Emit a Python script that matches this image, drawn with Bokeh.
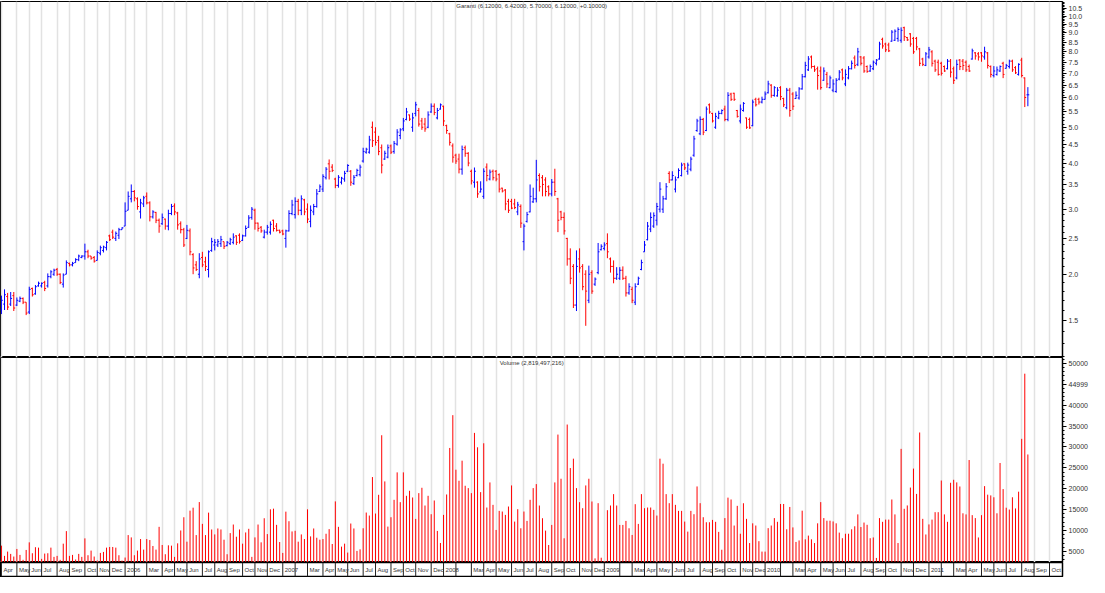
import pandas as pd
from bokeh.plotting import figure
from bokeh.layouts import column
from bokeh.models import Range1d, FixedTicker, Grid, CustomJSTickFormatter, Label, ColumnDataSource
from bokeh.embed import file_html
from bokeh.resources import INLINE
from bokeh.core.properties import value

# ---------------- data (weekly bars, Apr 2005 - Aug 2011) ----------------
open_ = [1.60,1.66,1.74,1.66,1.75,1.65,1.69,1.72,1.68,1.58,1.83,1.77,1.86,1.86,1.90,1.86,1.97,2.00,2.06,2.00,
1.88,2.00,2.14,2.12,2.15,2.19,2.22,2.24,2.30,2.24,2.22,2.18,2.28,2.32,2.36,2.54,2.60,2.50,2.55,2.64,
2.70,2.98,3.20,3.35,3.20,2.95,3.10,3.25,3.12,2.86,2.94,2.80,2.74,2.82,2.70,2.92,3.06,2.93,2.74,2.64,
2.50,2.62,2.26,2.12,2.00,2.22,2.16,2.06,2.32,2.40,2.40,2.42,2.45,2.39,2.42,2.44,2.54,2.55,2.47,2.54,
2.68,2.85,2.98,2.75,2.68,2.52,2.60,2.60,2.80,2.70,2.63,2.62,2.50,2.62,2.92,2.90,3.15,2.98,3.18,3.00,
2.78,2.95,3.05,3.35,3.40,3.65,3.98,3.90,3.62,3.48,3.55,3.62,3.80,3.80,3.52,3.70,3.72,4.05,4.28,4.28,
5.00,4.85,4.60,4.40,4.10,4.15,4.45,4.30,4.50,4.75,4.95,5.25,5.40,5.00,5.45,5.55,5.20,5.10,5.00,5.50,
5.70,5.30,5.60,5.70,5.05,4.80,4.45,4.20,4.10,3.85,4.40,4.25,3.80,3.55,3.55,3.34,3.25,3.90,3.62,3.80,
3.80,3.72,3.42,3.38,3.15,3.15,3.10,2.95,3.05,2.45,2.78,2.95,3.14,3.20,3.70,3.65,3.60,3.45,3.30,3.55,
3.20,2.95,2.85,2.50,2.20,2.10,1.65,2.20,2.10,2.00,1.70,2.02,1.88,2.02,2.33,2.35,2.42,2.20,2.10,1.95,
1.95,2.05,1.95,1.78,1.82,1.68,1.88,2.06,2.30,2.48,2.65,2.70,2.80,3.00,3.00,3.20,3.75,3.60,3.40,3.65,
3.70,3.98,3.80,3.85,4.20,4.90,4.80,5.25,4.90,5.75,5.45,5.00,5.30,5.45,5.60,5.25,6.15,6.18,5.55,5.20,
5.55,5.30,5.25,5.05,5.95,5.95,5.85,5.95,6.20,6.50,6.10,6.08,6.40,5.98,5.65,6.30,6.15,5.98,6.00,6.35,
6.85,7.15,7.75,7.30,7.20,7.10,6.70,6.95,6.40,6.30,6.25,6.75,7.15,6.55,6.80,7.20,7.70,7.40,7.75,7.70,
7.30,7.10,7.20,7.45,7.65,8.65,8.40,8.35,8.55,8.60,8.70,8.60,9.30,8.75,8.95,8.70,8.70,8.15,7.65,7.35,
7.75,8.00,7.55,7.50,7.45,7.30,7.20,7.55,7.20,6.80,7.60,7.55,7.50,7.30,7.65,7.95,7.90,7.95,7.75,7.95,
7.30,6.90,6.95,7.10,7.45,7.22,7.30,7.55,7.25,6.95,7.60,6.80,6.12]

high = [1.75,1.82,1.78,1.79,1.79,1.73,1.74,1.73,1.68,1.85,1.84,1.87,1.91,1.90,1.92,2.01,2.05,2.07,2.08,2.01,
2.01,2.18,2.15,2.16,2.21,2.26,2.25,2.42,2.33,2.24,2.24,2.32,2.39,2.39,2.46,2.56,2.64,2.61,2.67,2.68,
3.13,3.35,3.50,3.38,3.23,3.20,3.26,3.33,3.15,2.98,2.95,2.83,2.92,2.83,2.99,3.10,3.11,2.95,2.78,2.67,
2.72,2.66,2.28,2.17,2.28,2.30,2.23,2.32,2.51,2.49,2.49,2.54,2.45,2.46,2.51,2.58,2.55,2.58,2.56,2.71,
2.89,3.04,3.01,2.76,2.70,2.64,2.72,2.78,2.81,2.75,2.64,2.64,2.64,2.98,3.18,3.23,3.20,3.27,3.20,3.11,
3.07,3.10,3.40,3.50,3.73,3.90,4.09,3.97,3.65,3.71,3.67,3.81,3.97,3.83,3.71,3.86,3.96,4.40,4.40,4.74,
5.18,5.00,4.74,4.49,4.32,4.49,4.49,4.59,4.94,4.97,5.30,5.64,5.41,5.47,5.86,5.64,5.30,5.30,5.52,5.80,
5.80,5.64,5.80,5.72,5.08,4.83,4.52,4.24,4.24,4.46,4.46,4.28,3.84,3.89,3.57,3.57,3.87,3.99,3.84,3.84,
3.83,3.75,3.43,3.40,3.20,3.20,3.20,3.14,3.09,2.74,2.95,3.50,3.43,4.08,3.75,3.71,3.66,3.48,3.62,3.86,
3.22,2.97,2.94,2.51,2.35,2.13,2.32,2.35,2.13,2.05,2.11,2.05,1.96,2.43,2.41,2.44,2.58,2.22,2.18,2.09,
2.09,2.10,1.98,1.89,1.85,1.89,1.97,2.19,2.46,2.77,2.94,2.94,3.12,3.55,3.26,3.53,3.80,3.80,3.68,3.87,
4.01,3.99,4.01,4.16,4.74,5.27,5.35,5.30,5.69,5.80,5.47,5.47,5.54,5.59,5.72,6.22,6.20,6.20,5.57,5.76,
5.85,5.31,5.31,5.94,6.01,6.01,6.05,6.25,6.68,6.54,6.46,6.42,6.46,6.01,6.39,6.39,6.22,6.25,6.42,6.97,
7.52,7.79,7.82,7.35,7.30,7.30,7.26,7.06,6.90,6.74,6.79,7.14,7.21,7.17,7.32,7.58,7.82,8.20,7.79,7.79,
7.35,7.39,7.58,7.65,8.52,8.74,8.47,8.47,9.16,9.20,9.32,9.32,9.36,8.78,8.99,8.78,8.78,8.20,7.71,7.99,
8.25,8.08,7.62,7.62,7.52,7.35,7.65,7.65,7.30,7.62,7.65,7.65,7.58,7.39,8.16,7.99,7.99,7.99,8.26,7.99,
7.35,7.32,7.30,7.35,7.52,7.42,7.62,7.62,7.32,7.45,7.71,6.82,6.42]

low = [1.56,1.60,1.60,1.64,1.59,1.64,1.68,1.66,1.55,1.56,1.74,1.76,1.85,1.84,1.80,1.84,1.95,1.98,1.98,1.88,
1.84,2.00,2.10,2.10,2.15,2.17,2.21,2.19,2.21,2.19,2.15,2.18,2.25,2.29,2.32,2.46,2.49,2.46,2.49,2.64,
2.70,2.98,3.13,3.15,2.99,2.83,3.04,3.09,2.78,2.83,2.75,2.59,2.72,2.64,2.63,2.89,2.89,2.64,2.58,2.37,
2.49,2.25,2.00,2.04,1.95,2.09,2.04,1.96,2.30,2.32,2.37,2.37,2.34,2.38,2.40,2.41,2.40,2.42,2.46,2.53,
2.67,2.81,2.64,2.61,2.59,2.50,2.56,2.56,2.61,2.61,2.58,2.55,2.36,2.61,2.89,2.83,2.89,2.89,2.89,2.75,
2.68,2.89,3.03,3.34,3.34,3.61,3.61,3.78,3.42,3.43,3.50,3.56,3.78,3.47,3.49,3.68,3.68,4.01,4.24,4.24,
4.42,4.46,4.20,3.75,4.08,4.12,4.23,4.24,4.46,4.64,4.88,5.22,5.20,4.86,5.35,5.02,4.92,4.86,4.97,5.47,
5.39,5.25,5.58,5.04,4.80,4.46,4.01,3.98,3.75,3.72,4.16,3.92,3.50,3.43,3.22,3.33,3.20,3.57,3.59,3.59,
3.57,3.33,3.33,2.98,2.93,3.00,3.00,2.89,2.67,2.32,2.76,2.94,3.12,3.13,3.35,3.25,3.25,3.25,3.25,3.26,
2.60,2.80,2.56,2.11,1.88,1.62,1.59,2.02,1.81,1.45,1.67,1.77,1.86,2.00,2.32,2.32,2.21,2.02,1.89,1.93,
1.93,1.93,1.74,1.76,1.67,1.65,1.87,2.05,2.30,2.47,2.60,2.67,2.71,2.94,2.93,3.18,3.53,3.59,3.33,3.64,
3.68,3.83,3.72,3.80,4.16,4.86,4.76,4.76,4.88,5.44,5.15,4.95,5.26,5.42,5.19,5.19,5.89,5.89,5.31,5.12,
5.51,4.95,4.95,5.03,5.69,5.76,5.80,5.94,6.17,6.01,6.05,6.05,5.92,5.67,5.59,5.34,5.57,5.97,5.94,6.32,
6.82,7.10,7.21,7.06,6.32,6.32,6.68,6.39,6.37,6.22,6.20,6.70,6.70,6.46,6.74,7.17,7.21,7.32,7.35,7.02,
7.02,7.06,7.14,7.35,7.62,8.16,7.99,7.99,8.52,8.56,8.52,8.47,8.56,8.56,8.26,7.90,8.08,7.32,7.32,7.32,
7.67,7.30,7.06,6.90,6.90,7.06,7.17,6.82,6.55,6.74,7.14,7.14,7.06,7.06,7.62,7.62,7.58,7.52,7.62,7.21,
6.82,6.82,6.90,7.06,6.79,7.21,7.21,7.06,6.97,6.90,6.82,5.67,5.70]

close = [1.70,1.76,1.63,1.72,1.62,1.70,1.72,1.68,1.57,1.82,1.76,1.85,1.89,1.89,1.83,1.97,2.03,2.05,2.00,1.90,
1.99,2.15,2.12,2.14,2.19,2.24,2.24,2.30,2.24,2.21,2.17,2.29,2.36,2.37,2.44,2.48,2.52,2.58,2.64,2.67,
2.96,3.25,3.35,3.22,3.05,3.12,3.22,3.12,2.86,2.95,2.80,2.70,2.85,2.70,2.92,3.05,2.95,2.72,2.64,2.40,
2.63,2.30,2.08,2.06,2.20,2.12,2.10,2.30,2.45,2.44,2.45,2.48,2.38,2.44,2.48,2.52,2.44,2.45,2.54,2.66,
2.84,3.00,2.75,2.66,2.62,2.60,2.68,2.73,2.66,2.63,2.60,2.57,2.62,2.92,3.08,3.15,2.98,3.20,2.95,2.82,
2.98,3.05,3.30,3.45,3.68,3.85,3.80,3.82,3.48,3.66,3.64,3.75,3.94,3.55,3.66,3.82,3.90,4.30,4.36,4.62,
4.60,4.55,4.30,3.95,4.25,4.40,4.28,4.52,4.85,4.92,5.20,5.50,5.26,5.30,5.75,5.10,5.00,4.95,5.40,5.70,
5.48,5.55,5.75,5.20,4.90,4.55,4.15,4.05,3.85,4.35,4.25,4.00,3.58,3.80,3.30,3.40,3.80,3.70,3.78,3.65,
3.62,3.40,3.36,3.10,2.98,3.02,3.03,3.08,2.75,2.70,2.90,3.25,3.20,3.60,3.45,3.50,3.35,3.30,3.55,3.35,
2.80,2.85,2.62,2.20,1.95,1.65,2.10,2.08,1.85,1.80,2.00,1.80,1.94,2.30,2.38,2.40,2.30,2.10,1.95,2.00,
2.05,1.95,1.78,1.85,1.70,1.85,1.95,2.15,2.40,2.70,2.85,2.88,3.05,3.40,3.20,3.45,3.60,3.70,3.60,3.82,
3.95,3.88,3.95,4.10,4.65,5.20,5.25,4.85,5.60,5.50,5.20,5.35,5.45,5.55,5.25,6.10,5.95,5.95,5.35,5.60,
5.80,5.00,4.98,5.85,5.75,5.85,5.95,6.15,6.55,6.10,6.40,6.30,6.05,5.75,6.30,5.55,5.70,6.10,6.35,6.85,
7.35,7.65,7.30,7.15,6.90,6.40,7.10,6.55,6.80,6.55,6.70,7.05,6.80,6.95,7.20,7.45,7.35,8.00,7.45,7.10,
7.08,7.30,7.50,7.60,8.40,8.30,8.10,8.05,9.05,9.10,9.20,9.15,8.80,8.62,8.40,8.00,8.25,7.45,7.40,7.90,
8.10,7.45,7.15,6.95,7.00,7.10,7.55,7.05,6.70,7.40,7.30,7.35,7.15,7.10,8.05,7.80,7.75,7.80,8.00,7.35,
6.95,7.10,7.15,7.30,6.95,7.35,7.55,7.15,7.02,7.40,6.90,6.02,6.12]

volume = [6382,3933,4960,4407,3775,5592,4170,2985,5355,7172,
4565,6007,5908,3222,4486,4565,5908,3696,3933,2985,
6856,9858,3933,4170,3064,4407,3696,8120,4091,5197,
3775,2827,4644,4881,5908,6066,6066,5908,4091,2800,
3538,8910,8357,4091,5197,7962,5434,7962,7725,6303,
5434,10885,6540,4328,6461,6382,3696,6935,10016,13176,
7330,14756,15467,8910,16810,11596,8910,14282,10253,9068,
10490,10253,7804,4328,9384,11438,8515,10253,6856,9542,
10411,3696,8357,11438,7172,12939,9147,15072,15230,11359,
7251,4644,14519,12228,9779,9937,7330,9068,7962,15072,
8594,10490,8278,7804,7962,9226,10332,6777,16968,10885,
6145,6856,4723,11675,10490,5118,
5495,10540,14303,13582,22791,14063,18547,32799,21750,10940,
13182,17346,23912,16785,23912,18307,19508,17906,12782,18947,
20228,15984,18307,13903,17186,9899,7017,13743,18627,29757,
37604,24552,21910,26714,20708,20148,18947,33360,29917,19187,
30878,15504,21510,16145,10140,14704,14543,13743,15744,20788,
12141,15104,10540,14543,12301,17346,20148,21109,15984,12942,
9979,6536,11341,21510,32959,22390,8138,35361,24953,27195,
20148,16785,15344,20788,22390,16945,3333,16545,3493,2692,
14864,15984,18707,15984,11341,11341,12301,10540,8939,16305,
11581,18707,15344,15504,15504,14944,13582,27195,25994,18707,
16545,18707,16145,14704,14704,12141,9739,14704,13903,20548,
16545,13182,11981,11981,12541,
12082,9677,5402,12973,17871,17426,11192,15906,9232,16530,
12795,7006,11726,11192,7451,4958,4958,10568,11192,12973,
12082,16352,16352,10301,15639,10746,7272,7628,14748,7896,
8786,7896,7006,11726,16797,12973,12349,12349,12171,11726,
9499,8163,9232,9232,10301,11014,13859,10836,11904,11370,
8163,8342,3444,12973,12082,12616,12616,17426,13859,7006,
29538,15201,16000,20277,24819,18762,33456,12795,9054,11459,
12616,14392,14392,21963,13859,12082,21429,22141,21518,20538,
14124,13859,26871,13679,12973,8342,13679,20627,18578,18400,
17955,14124,26158,19916,15461,15016,17955,15283,19294,31943,
47528,28195]

price_title = "Garanti (6.12000, 6.42000, 5.70000, 6.12000, +0.10000)"
volume_title = "Volume (2,819,497,216)"
price_ticks = [1.5, 2.0, 2.5, 3.0, 3.5, 4.0, 4.5, 5.0, 5.5, 6.0, 6.5, 7.0, 7.5, 8.0, 8.5, 9.0, 9.5, 10.0, 10.5]
volume_ticks = [5000, 10000, 15000, 20000, 25000, 30000, 35000, 40000, 45000, 50000]
month_names = ["", "", "Mar", "Apr", "May", "Jun", "Jul", "Aug", "Sep", "Oct", "Nov", "Dec"]

# ---------------- week calendar (one slot per traded week) ----------------
dates = pd.date_range("2005-04-01", "2011-10-28", freq="W-FRI")
dates = dates[dates != pd.Timestamp("2006-01-13")]
month_idx, month_lbl = [], []
for k, d in enumerate(dates):
    if k == 0 or d.month != dates[k - 1].month:
        month_idx.append(k)
        month_lbl.append(str(d.year) if d.month == 1 else month_names[d.month - 1])

n = len(close)
xs = list(range(n))
UP, DN = "#0000ff", "#ff0000"
src = ColumnDataSource(dict(
    x=xs, xl=[i - 0.45 for i in xs], xr=[i + 0.45 for i in xs],
    open=open_, high=high, low=low, close=close,
    color=[UP if c >= o else DN for o, c in zip(open_, close)],
))
vsrc = ColumnDataSource(dict(x=xs, zero=[0] * n, vol=volume))

FONT = "Liberation Sans"
FW = 1062
RB = 24
xr = Range1d(-0.3, 343.2)

def style_axis(ax):
    ax.major_label_text_font = FONT
    ax.major_label_text_font_size = "7px"
    ax.major_label_text_color = "#333333"
    ax.axis_line_color = "black"
    ax.axis_line_width = 1.5
    ax.major_tick_line_color = "black"
    ax.minor_tick_line_color = "black"
    ax.major_tick_out = 4
    ax.major_tick_in = 0
    ax.minor_tick_out = 2
    ax.minor_tick_in = 0
    ax.major_label_standoff = 2

def month_grid(fig):
    fig.grid.visible = False
    fig.add_layout(Grid(dimension=0, ticker=FixedTicker(ticks=month_idx),
                        grid_line_color="#e2e2e2", grid_line_width=1.5))

# ---------------- price panel ----------------
pp = figure(frame_width=FW, frame_height=356, x_range=xr, y_range=Range1d(1.19, 10.95),
            y_axis_type="log", x_axis_location=None, y_axis_location="right",
            toolbar_location=None, output_backend="svg",
            min_border_left=0, min_border_right=RB, min_border_top=1, min_border_bottom=0)
pp.outline_line_color = "black"
pp.outline_line_width = 1
month_grid(pp)
ya = pp.yaxis[0]
ya.ticker = FixedTicker(ticks=price_ticks,
                        minor_ticks=[round(1.2 + 0.1 * k, 1) for k in range(98)])
ya.formatter = CustomJSTickFormatter(code="return tick.toFixed(1);")
style_axis(ya)
pp.segment(x0="x", y0="low", x1="x", y1="high", color="color", line_width=1, source=src)
pp.segment(x0="xl", y0="open", x1="x", y1="open", color="color", line_width=1, source=src)
pp.segment(x0="x", y0="close", x1="xr", y1="close", color="color", line_width=1, source=src)
pp.add_layout(Label(x=171.5, y=10.88, text=price_title, text_align="center", text_baseline="top",
                    text_font=FONT, text_font_size="6px", text_color="#333333"))

# ---------------- volume panel ----------------
vp = figure(frame_width=FW, frame_height=205, x_range=xr, y_range=Range1d(2350, 51400),
            x_axis_location=None, y_axis_location="right",
            toolbar_location=None, output_backend="svg",
            min_border_left=0, min_border_right=RB, min_border_top=0, min_border_bottom=0)
vp.outline_line_color = "black"
vp.outline_line_width = 1
month_grid(vp)
va = vp.yaxis[0]
va.ticker = FixedTicker(ticks=volume_ticks,
                        minor_ticks=[v for v in range(3000, 51001, 1000) if v % 5000])
va.formatter = CustomJSTickFormatter(
    code="return (Math.abs(tick - 45000) < 1) ? '44999' : tick.toFixed(0);")
style_axis(va)
vp.segment(x0="x", y0="zero", x1="x", y1="vol", color="#ff0000", line_width=1, source=vsrc)
vp.add_layout(Label(x=171.5, y=50900, text=volume_title, text_align="center", text_baseline="top",
                    text_font=FONT, text_font_size="6px", text_color="#333333"))

# ---------------- month label row ----------------
lp = figure(frame_width=FW, frame_height=14, x_range=xr, y_range=Range1d(0, 1),
            x_axis_location=None, y_axis_location=None,
            toolbar_location=None, output_backend="svg",
            min_border_left=0, min_border_right=RB, min_border_top=0, min_border_bottom=1)
lp.outline_line_color = "black"
lp.outline_line_width = 1.5
lp.grid.visible = False
lp.segment(x0=month_idx, y0=[0] * len(month_idx), x1=month_idx, y1=[1] * len(month_idx),
           color="#222222", line_width=1)
lp.text(x=month_idx, y=[0.5] * len(month_idx), text=month_lbl, x_offset=2,
        text_font=value(FONT), text_font_size="6px", text_color="#333333",
        text_align="left", text_baseline="middle")

layout = column(pp, vp, lp, spacing=0)
open("out.html", "w").write(file_html(layout, INLINE, title="Garanti"))
